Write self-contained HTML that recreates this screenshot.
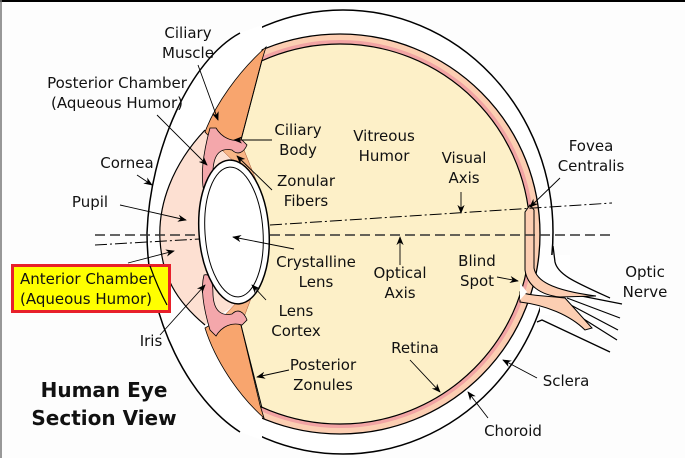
<!DOCTYPE html>
<html><head><style>
html,body{margin:0;padding:0;background:#fff;}
svg{display:block;}
text{font-family:"DejaVu Sans","Liberation Sans",sans-serif;font-size:15px;fill:#111;}
</style></head><body>
<svg width="685" height="458" viewBox="0 0 685 458" xmlns="http://www.w3.org/2000/svg">
<defs>
<marker id="a" viewBox="0 0 10 10" refX="9" refY="5" markerWidth="9" markerHeight="9" orient="auto" markerUnits="userSpaceOnUse"><path d="M0,1 L10,5 L0,9 L3,5 Z" fill="#000"/></marker>
<clipPath id="c"><polygon points="262,0 262,48 240,140 240,330 262,418 262,458 685,458 685,0"/></clipPath>
</defs>
<rect x="0" y="0" width="685" height="458" fill="#fdfdfd"/>

<!-- sclera -->
<ellipse cx="343" cy="232" rx="210" ry="222" fill="#fff" stroke="#000" stroke-width="1.5"/>
<path d="M240 33 C190 60 150 150 147 233 C147 320 190 400 240 432 L240 458 L0 458 L0 0 L240 0 Z" fill="#fdfdfd"/>
<path d="M240 33 C190 60 150 150 147 233 C147 320 190 400 240 432 L262 440 L262 25 Z" fill="#fff"/>
<path d="M240 33 C190 60 150 150 147 233 C147 320 190 400 240 432" fill="none" stroke="#000" stroke-width="1.5"/>
<line x1="0" y1="1" x2="685" y2="1" stroke="#000" stroke-width="2"/>
<line x1="1" y1="0" x2="1" y2="458" stroke="#777" stroke-width="1.5"/>

<!-- optic nerve -->
<rect x="540" y="255" width="30" height="60" fill="#fff"/>
<path d="M553 246 L555 262 C558 275 575 282 610 298" fill="none" stroke="#000" stroke-width="1.3"/>
<path d="M537 322 L542 320 L610 352" fill="none" stroke="#000" stroke-width="1.3"/>
<g stroke="#000" stroke-width="1.2">
<line x1="566" y1="293" x2="622" y2="304"/><line x1="567" y1="298" x2="620" y2="318"/>
<line x1="565" y1="302" x2="618" y2="330"/><line x1="563" y1="306" x2="617" y2="340"/>
</g>

<!-- choroid / retina / vitreous -->
<g clip-path="url(#c)">
<circle cx="340" cy="234" r="200" fill="#fcceb2" stroke="#000" stroke-width="1.3"/>
<circle cx="340" cy="234" r="194" fill="#f2a4a4"/>
<circle cx="340" cy="234" r="190" fill="#fdf0c8" stroke="#000" stroke-width="1.2"/>
</g>
<path d="M525 212 L530 205 L534 210 L534 268 C536 280 550 290 596 296 L560 297 C540 295 527 285 525 270 Z" fill="#fcceb2" stroke="#000" stroke-width="1"/>
<path d="M520 292 C530 296 550 296 565 298 L592 328 L585 330 C570 315 545 305 520 302 Z" fill="#fcceb2" stroke="#000" stroke-width="1"/>
<path d="M520 283 L527 292 L520 300" fill="#fff"/>

<!-- anterior chamber -->
<path d="M205 130 C172 165 158 205 160 240 C162 275 175 300 205 325 L235 305 L235 158 Z" fill="#fde0d2"/>
<path d="M205 130 C172 165 158 205 160 240 C162 275 175 300 205 325" fill="none" stroke="#000" stroke-width="1.2"/>

<!-- ciliary muscle -->
<path d="M205 132 C215 105 238 72 266 47 L262 60 L241 140 L222 150 Z" fill="#f8a56e" stroke="#000" stroke-width="0.8"/>
<path d="M205 328 C215 360 238 395 264 418 L260 405 L241 325 L222 318 Z" fill="#f8a56e" stroke="#000" stroke-width="0.8"/>
<!-- zonular fibers -->
<path d="M222 150 L258 185 L240 140 Z M222 318 L258 280 L241 325 Z" fill="#f8b585" stroke="#a05030" stroke-width="0.5"/>
<!-- iris / ciliary body pink -->
<path d="M210 128 C204 150 200 175 204 192 C210 194 213 188 213 170 C214 152 222 148 232 150 C238 156 244 152 247 145 L242 140 C232 142 222 138 216 128 Z" fill="#f4a7ab" stroke="#000" stroke-width="0.8"/>
<path d="M210 330 C204 310 200 290 204 275 C210 273 213 280 213 295 C214 312 222 316 232 314 C238 308 244 312 247 320 L242 325 C232 322 222 326 216 336 Z" fill="#f4a7ab" stroke="#000" stroke-width="0.8"/>
<line x1="262" y1="60" x2="241" y2="140" stroke="#000" stroke-width="1"/>
<line x1="262" y1="408" x2="241" y2="325" stroke="#000" stroke-width="1"/>

<!-- lens -->
<ellipse cx="234" cy="232" rx="35" ry="72" transform="rotate(-4 234 232)" fill="#fff" stroke="#000" stroke-width="1.5"/>
<ellipse cx="234" cy="232" rx="29" ry="65" transform="rotate(-4 234 232)" fill="#fff" stroke="#000" stroke-width="1"/>

<!-- axes -->
<line x1="95" y1="235" x2="200" y2="235" stroke="#333" stroke-width="1.5" stroke-dasharray="10 5"/>
<line x1="270" y1="235" x2="615" y2="235" stroke="#333" stroke-width="1.5" stroke-dasharray="10 5"/>
<line x1="95" y1="245" x2="200" y2="239" stroke="#000" stroke-width="1" stroke-dasharray="12 3 2 3"/>
<line x1="270" y1="225" x2="612" y2="203" stroke="#000" stroke-width="1" stroke-dasharray="12 3 2 3"/>

<!-- label box -->
<rect x="12.5" y="265.5" width="157" height="46" fill="#ffff00" stroke="#e8202a" stroke-width="3"/>
<path d="M150 266 C155 280 160 292 167 305" fill="none" stroke="#000" stroke-width="1.2"/>

<!-- arrows -->
<g stroke="#000" stroke-width="0.9" marker-end="url(#a)" fill="none">
<line x1="198" y1="65" x2="218" y2="120"/>
<line x1="157" y1="115" x2="207" y2="165"/>
<line x1="137" y1="175" x2="152" y2="185"/>
<line x1="120" y1="205" x2="186" y2="220"/>
<line x1="128" y1="263" x2="174" y2="251"/>
<line x1="160" y1="335" x2="205" y2="285"/>
<line x1="272" y1="140" x2="234" y2="140"/>
<line x1="272" y1="190" x2="237" y2="156"/>
<line x1="294" y1="249" x2="233" y2="237"/>
<line x1="266" y1="300" x2="252" y2="285"/>
<line x1="289" y1="370" x2="257" y2="377"/>
<line x1="461" y1="192" x2="461" y2="213"/>
<line x1="400" y1="265" x2="400" y2="237"/>
<line x1="497" y1="277" x2="518" y2="281"/>
<line x1="410" y1="360" x2="440" y2="392"/>
<line x1="560" y1="178" x2="530" y2="207"/>
<line x1="537" y1="378" x2="503" y2="360"/>
<line x1="488" y1="418" x2="468" y2="392"/>
</g>

<!-- labels -->
<g text-anchor="middle">
<text x="188" y="38">Ciliary</text><text x="188" y="58">Muscle</text>
<text x="117" y="88">Posterior Chamber</text><text x="117" y="108">(Aqueous Humor)</text>
<text x="127" y="168">Cornea</text>
<text x="90" y="207">Pupil</text>
<text x="151" y="346">Iris</text>
<text x="298" y="135">Ciliary</text><text x="298" y="155">Body</text>
<text x="306" y="186">Zonular</text><text x="306" y="206">Fibers</text>
<text x="316" y="267">Crystalline</text><text x="316" y="287">Lens</text>
<text x="296" y="316">Lens</text><text x="296" y="336">Cortex</text>
<text x="323" y="370">Posterior</text><text x="323" y="390">Zonules</text>
<text x="384" y="141">Vitreous</text><text x="384" y="161">Humor</text>
<text x="464" y="163">Visual</text><text x="464" y="183">Axis</text>
<text x="400" y="278">Optical</text><text x="400" y="298">Axis</text>
<text x="477" y="266">Blind</text><text x="477" y="286">Spot</text>
<text x="415" y="353">Retina</text>
<text x="591" y="151">Fovea</text><text x="591" y="171">Centralis</text>
<text x="645" y="277">Optic</text><text x="645" y="297">Nerve</text>
<text x="566" y="386">Sclera</text>
<text x="513" y="436">Choroid</text>
<text x="104" y="397" style="font-weight:bold;font-size:20px">Human Eye</text>
<text x="104" y="425" style="font-weight:bold;font-size:20px">Section View</text>
</g>
<text x="20" y="284">Anterior Chamber</text>
<text x="20" y="304">(Aqueous Humor)</text>
</svg>
</body></html>
